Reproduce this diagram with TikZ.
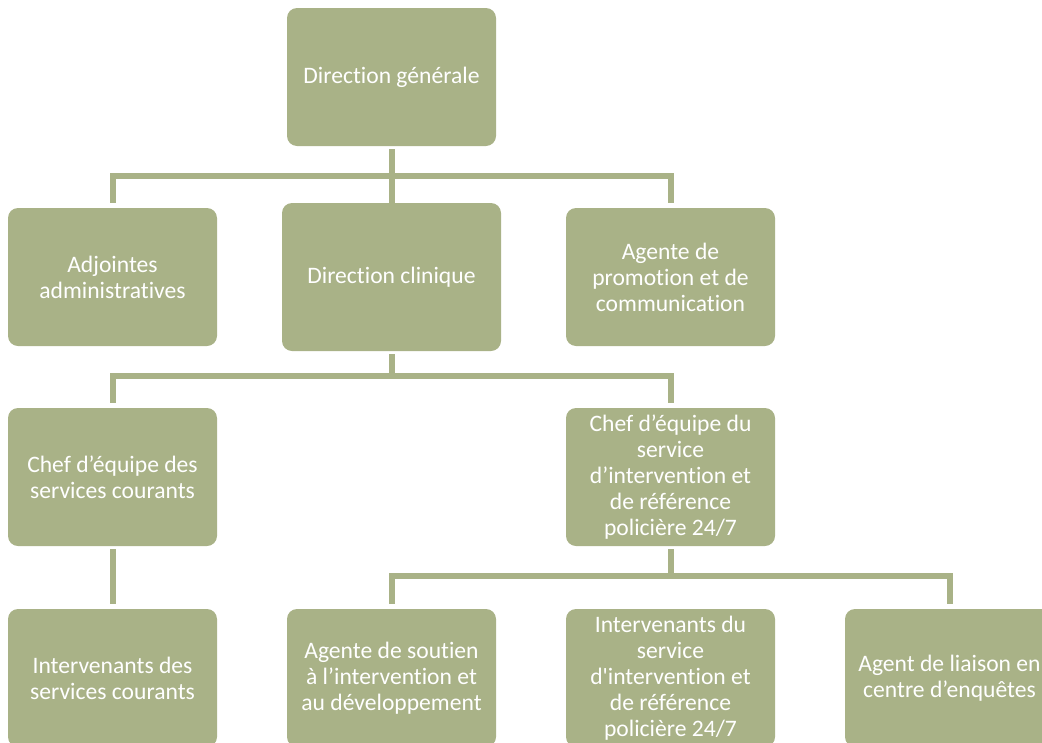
\documentclass[tikz,border=0pt]{standalone}
\usepackage{fontspec}
\newfontfamily\carl{Carlito}[Ligatures={NoCommon}]
\definecolor{olive}{HTML}{A9B287}
\tikzset{
  box/.style={fill=olive, rounded corners=10pt, minimum width=209pt, minimum height=138pt,
    align=center, text=white, inner sep=0pt,
    font=\carl\fontsize{23.6pt}{26pt}\selectfont},
  conn/.style={draw=olive, line width=6pt, line join=miter, line cap=butt}
}
\begin{document}
\begin{tikzpicture}[x=1pt,y=-1pt]
\useasboundingbox (0,0) rectangle (1042,742);
\clip (0,0) rectangle (1042,742);
% row 1
\node[box] (dg) at (391.5,77) {Direction générale};
% row 2
\node[box] (adj) at (112.5,277) {Adjointes\\administratives};
\node[box, minimum width=219pt, minimum height=148pt] (dc) at (391.5,277) {Direction clinique};
\node[box] (promo) at (670.5,277) {Agente de\\promotion et de\\communication};
% row 3
\node[box] (chefa) at (112.5,477) {Chef d’équipe des\\services courants};
\node[box] (chefb) at (670.5,477) {Chef d’équipe du\\service\\d’intervention et\\de référence\\policière 24/7};
% row 4
\node[box] (inta) at (112.5,678) {Intervenants des\\services courants};
\node[box] (soutien) at (391.5,678) {Agente de soutien\\à l’intervention et\\au développement};
\node[box] (intb) at (670.5,678) {Intervenants du\\service\\d'intervention et\\de référence\\policière 24/7};
\node[box] (liaison) at (949.5,678) {Agent de liaison en\\centre d’enquêtes};
% buses
\coordinate (bus1) at (0,176);
\coordinate (bus2) at (0,376);
\coordinate (bus3) at (0,576);
% connectors
\draw[conn, shorten <=3pt, shorten >=0pt] (dg.south) -- (dc.north);
\draw[conn, shorten <=5pt, shorten >=5pt] (adj.north) -- (adj.north |- bus1) -- (promo.north |- bus1) -- (promo.north);
\draw[conn, shorten <=3pt] (dc.south) -- (dc.south |- bus2);
\draw[conn, shorten <=5pt, shorten >=5pt] (chefa.north) -- (chefa.north |- bus2) -- (chefb.north |- bus2) -- (chefb.north);
\draw[conn, shorten <=3pt, shorten >=5pt] (chefa.south) -- (inta.north);
\draw[conn, shorten <=3pt] (chefb.south) -- (chefb.south |- bus3);
\draw[conn, shorten <=5pt, shorten >=5pt] (soutien.north) -- (soutien.north |- bus3) -- (liaison.north |- bus3) -- (liaison.north);
\end{tikzpicture}
\end{document}
